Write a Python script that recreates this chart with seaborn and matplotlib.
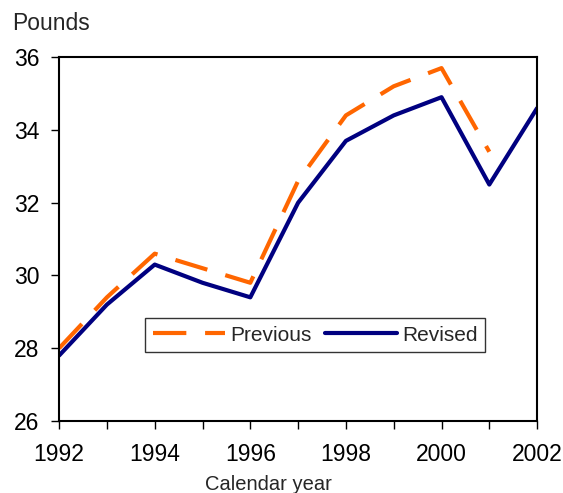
import numpy as np
import pandas as pd
import seaborn as sns
import matplotlib.pyplot as plt

# data
years = list(range(1992, 2003))
previous = [28.0, 29.4, 30.6, 30.2, 29.8, 32.6, 34.4, 35.2, 35.7, 33.4, np.nan]
revised = [27.8, 29.2, 30.3, 29.8, 29.4, 32.0, 33.7, 34.4, 34.9, 32.5, 34.6]
xtick_labels = [str(y) if y % 2 == 0 else '' for y in years]
yticks = [26, 28, 30, 32, 34, 36]

df = pd.DataFrame({
    'year': years * 2,
    'pounds': previous + revised,
    'series': ['Previous'] * len(years) + ['Revised'] * len(years),
})

sns.set_style('white')
plt.rcParams['font.family'] = ['Liberation Sans', 'DejaVu Sans']

fig = plt.figure(figsize=(5.63, 4.93), dpi=100)
ax = fig.add_axes([0.105, 0.146, 0.849, 0.738])

sns.lineplot(data=df, x='year', y='pounds', hue='series', style='series',
             palette={'Previous': '#FF6600', 'Revised': '#000080'},
             dashes={'Previous': (8, 4.5), 'Revised': ''},
             linewidth=3, ax=ax)

ax.set_xlim(1992, 2002)
ax.set_ylim(26, 36)
ax.set_xticks(years)
ax.set_xticklabels(xtick_labels)
ax.set_yticks(yticks)
ax.tick_params(axis='both', direction='out', length=6, width=1, colors='black',
               labelsize=16.5, bottom=True, left=True)
ax.tick_params(axis='x', pad=10)
ax.tick_params(axis='y', pad=8)
for s in ax.spines.values():
    s.set_color('black')
    s.set_linewidth(1.5)
ax.set_xlabel('')
ax.set_ylabel('')

leg = ax.legend(loc='center', bbox_to_anchor=(0.536, 0.236), ncol=2, fontsize=15,
                frameon=True, fancybox=False, edgecolor='black', handlelength=3.5,
                columnspacing=0.6, handletextpad=0.25, borderpad=0.35,
                borderaxespad=0)
leg.get_frame().set_linewidth(1)

fig.text(12 / 563, 1 - 24 / 493, 'Pounds', fontsize=16.5, va='center', ha='left')
fig.text(268 / 563, 1 - 484 / 493, 'Calendar year', fontsize=14.5, va='center', ha='center')

fig.savefig('out.png', dpi=100)
